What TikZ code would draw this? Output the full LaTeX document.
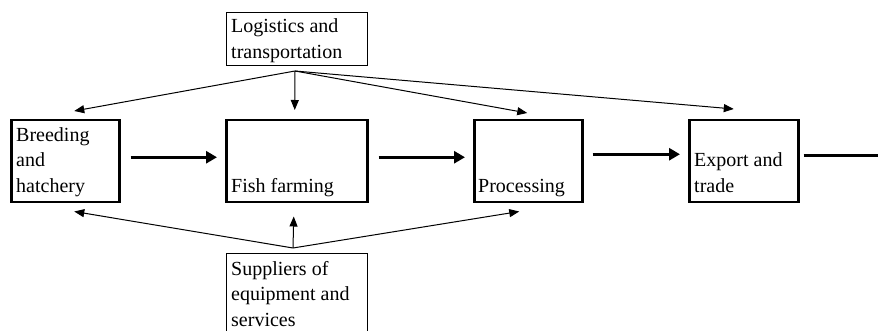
\documentclass[tikz,border=0pt]{standalone}
\usepackage{fontspec}
\setmainfont{Liberation Serif}
\usetikzlibrary{arrows.meta,calc}
\begin{document}
\begin{tikzpicture}[x=1pt,y={(0pt,-1pt)},
  thinbox/.style={draw,line width=1pt,minimum width=141pt,minimum height=53pt,anchor=north west,inner sep=0pt},
  stagebox/.style={draw,line width=2.5pt,minimum height=82pt,anchor=north west,inner sep=0pt},
  lbl/.style={anchor=base west,inner sep=0pt,align=left,font=\fontsize{20}{25.5}\selectfont},
  flow/.style={line width=1pt,-{Triangle[length=10pt,width=8pt]}},
  mainflow/.style={line width=3pt,-{Triangle[length=11pt,width=12pt]}}]
\useasboundingbox (0,0) rectangle (878,331);
\clip (0,0) rectangle (878,331);

% boxes
\node[thinbox] (log) at (226,12) {};
\node[stagebox,minimum width=108pt] (breed) at (10,119) {};
\node[stagebox,minimum width=141pt] (fish) at (225,119) {};
\node[stagebox,minimum width=108pt] (proc) at (473,119) {};
\node[stagebox,minimum width=109pt] (exp) at (688,119) {};
\node[thinbox,minimum height=95pt] (sup) at (226,253) {};

% labels
\node[lbl] (logt) at (231,33) {Logistics and};
\node[lbl] (logt2) at (231,59) {transportation};
\node[lbl] (bt1) at (16,142) {Breeding};
\node[lbl] (bt2) at (16,167) {and};
\node[lbl] (bt3) at (16,193) {hatchery};
\node[lbl] (ft) at (231,193) {Fish farming};
\node[lbl] (pt) at (478,193) {Processing};
\node[lbl] (et1) at (694,167) {Export and};
\node[lbl] (et2) at (694,193) {trade};
\node[lbl] (st1) at (231,275) {Suppliers of};
\node[lbl] (st2) at (231,300) {equipment and};
\node[lbl] (st3) at (231,326) {services};

% main value chain
\draw[mainflow] ([shift={(10,-4)}]breed.east) -- ([shift={(-8,-4)}]fish.west);
\draw[mainflow] ([shift={(10,-4)}]fish.east) -- ([shift={(-8,-4)}]proc.west);
\draw[mainflow] ([shift={(9,-7)}]proc.east) -- ([shift={(-8,-7)}]exp.west);
\coordinate (expout) at ([shift={(4,-6)}]exp.east);
\coordinate (out) at (880,0);
\draw[line width=3pt] (expout) -- (expout -| out);

% logistics links
\coordinate (lo) at ([shift={(-2,5)}]log.south);
\draw[flow] (lo) -- ([shift={(9,-8)}]breed.north);
\draw[flow] (lo) -- ([shift={(-2,-9)}]fish.north);
\draw[flow] (lo) -- ([shift={(-1,-6)}]proc.north);
\draw[flow] (lo) -- ([shift={(-10,-10)}]exp.north);

% supplier links
\coordinate (so) at ([shift={(-4,-5)}]sup.north);
\draw[flow] (so) -- ([shift={(9,8)}]breed.south);
\draw[flow] (so) -- ([shift={(-3,13)}]fish.south);
\draw[flow] (so) -- ([shift={(-9,8)}]proc.south);
\end{tikzpicture}
\end{document}
